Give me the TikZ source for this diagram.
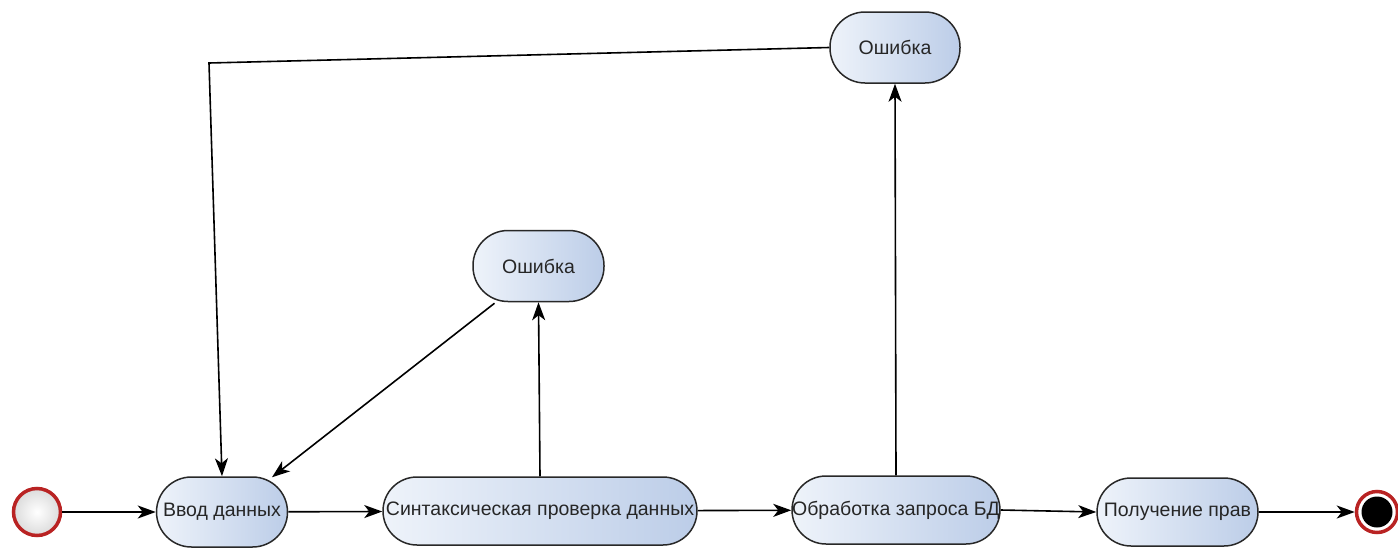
\documentclass[tikz,border=0pt]{standalone}
\usepackage{fontspec}
\setmainfont{Liberation Sans}
\usetikzlibrary{arrows.meta,shadings}
\definecolor{fillA}{RGB}{238,243,250}
\definecolor{fillB}{RGB}{188,205,232}
\definecolor{edge}{RGB}{40,40,40}
\definecolor{ringred}{RGB}{185,35,35}
\tikzset{
  state/.style={draw=edge, line width=1.5pt, rectangle, rounded corners=34pt,
    minimum height=68pt, inner sep=0pt, left color=fillA, right color=fillB,
    font=\fontsize{19.5}{22}\selectfont, text=black!85},
  conn/.style={draw=black, line width=1.6pt, -{Stealth[length=18pt,width=13pt,inset=5pt]}},
}
\begin{document}
\begin{tikzpicture}[x=1pt,y=-1pt]
\useasboundingbox (0,0) rectangle (1398,549);
% start
\node (start) [circle, draw=ringred, line width=3.5pt, minimum size=47pt, inner sep=0pt,
  inner color=white, outer color=black!14] at (37,512) {};
% end
\node (stop) [circle, draw=ringred, line width=3.5pt, minimum size=41pt, inner sep=0pt, fill=white] at (1377,512) {};
\fill[black] (stop.center) circle (15.5pt);
% states
\node (input) [state, minimum width=131pt, minimum height=70pt, rounded corners=35pt] at (222,512) {Ввод данных};
\node (syn) [state, minimum width=314pt] at (540,511) {Синтаксическая проверка данных};
\node (db) [state, minimum width=208pt] at (896,510) {Обработка запроса БД};
\node (rights) [state, minimum width=161pt] at (1177.5,512) {Получение прав};
\node (err1) [state, minimum width=131pt, minimum height=71pt, rounded corners=35pt] at (538.5,266) {Ошибка};
\node (err2) [state, minimum width=130pt, minimum height=71pt, rounded corners=35pt] at (895,47.5) {Ошибка};
\coordinate (corner) at (209,63);
\coordinate (e1) at ([xshift=-44pt,yshift=-1pt]err1.south);
\coordinate (intarget) at ([xshift=50pt,yshift=-1pt]input.north);
% connectors
\draw[conn] (start) -- (input);
\draw[conn] (input) -- (syn);
\draw[conn] (syn) -- (db);
\draw[conn] (db.east) -- (rights.west);
\draw[conn] (rights) -- (stop);
\draw[conn] (syn.north) -- (err1.south);
\draw[conn] (db.north) -- (err2.south);
\draw[conn] (e1) -- (intarget);
\draw[conn] (err2.west) -- (corner) -- (input.north);
\end{tikzpicture}
\end{document}
